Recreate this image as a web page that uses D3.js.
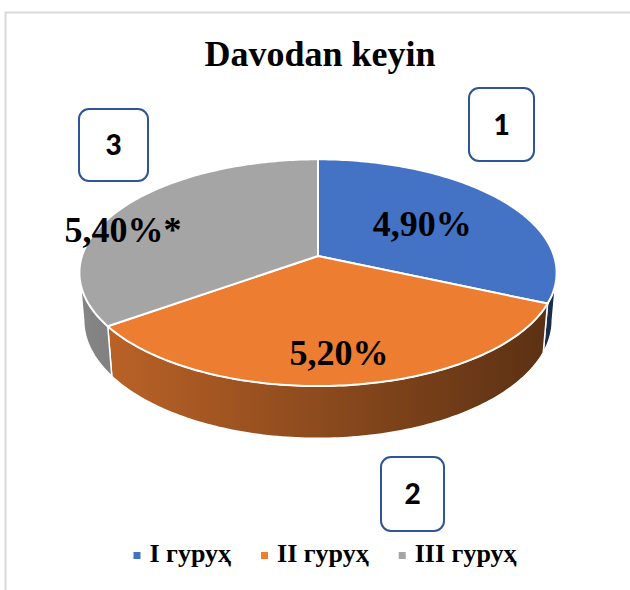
<!DOCTYPE html>
<html>
<head>
<meta charset="utf-8">
<script src="https://cdn.jsdelivr.net/npm/d3@7"></script>
<style>
  body { margin: 0; background: #fff; }
  svg { display: block; }
</style>
</head>
<body>
<div id="chart"></div>
<script>
// data
var groups = ["I гуруҳ", "II гуруҳ", "III гуруҳ"];
var values = [4.9, 5.2, 5.4];
var valueLabels = ["4,90%", "5,20%", "5,40%*"];
var colors = ["#4472c4", "#ed7d31", "#a5a5a5"];
var boxNumbers = ["1", "2", "3"];

var width = 630, height = 590;
var serif = "'Liberation Serif', 'Times New Roman', serif";

var svg = d3.select("#chart").append("svg")
  .attr("width", width)
  .attr("height", height);

// light frame round the chart area
svg.append("rect")
  .attr("x", 5.5).attr("y", 12.5)
  .attr("width", 700).attr("height", 700)
  .attr("fill", "none")
  .attr("stroke", "#d9d9d9")
  .attr("stroke-width", 2);

svg.append("text")
  .attr("x", 320).attr("y", 66)
  .attr("text-anchor", "middle")
  .style("font-family", serif)
  .style("font-weight", "bold")
  .style("font-size", "36px")
  .text("Davodan keyin");

// 3d pie projection: circle tilted towards the viewer, mild perspective
var cx = 318, cy = 256, R = 236;
var tilt = Math.asin(0.47), D = 6.0, depth = 0.23;

function proj(theta, f, h) {
  var X = f * Math.sin(theta), Z = -f * Math.cos(theta), Y = -h;
  var u = Y * Math.cos(tilt) - Z * Math.sin(tilt);
  var w = Z * Math.cos(tilt) + Y * Math.sin(tilt);
  var s = D / (D - w);
  return [cx + R * X * s, cy - R * u * s];
}

function rim(a0, a1, h) {
  var n = Math.max(2, Math.ceil((a1 - a0) / (Math.PI / 180)));
  return d3.range(n + 1).map(function(i) { return proj(a0 + (a1 - a0) * i / n, 1, h); });
}

// silhouette angles of the side wall
var sR = Math.acos(-Math.cos(tilt) / D);
var sL = 2 * Math.PI - sR;

var pie = d3.pie().sort(null).value(function(d) { return d; });
var arcs = pie(values);
var line = d3.line();

var defs = svg.append("defs");
arcs.forEach(function(d, i) {
  var g = defs.append("linearGradient")
    .attr("id", "side" + i)
    .attr("gradientUnits", "userSpaceOnUse")
    .attr("x1", cx - R).attr("x2", cx + R)
    .attr("y1", 0).attr("y2", 0);
  g.append("stop").attr("offset", "0%").attr("stop-color", d3.color(colors[i]).darker(0.6));
  g.append("stop").attr("offset", "100%").attr("stop-color", d3.color(colors[i]).darker(2.7));
});

// side walls (front part only)
var walls = svg.append("g");
arcs.forEach(function(d, i) {
  var a0 = Math.max(d.startAngle, sR), a1 = Math.min(d.endAngle, sL);
  if (a1 <= a0) return;
  var pts = rim(a0, a1, 0).concat(rim(a0, a1, depth).reverse());
  walls.append("path")
    .attr("d", line(pts) + "Z")
    .attr("fill", "url(#side" + i + ")")
    .attr("stroke", "#fff")
    .attr("stroke-width", 1.5)
    .attr("stroke-linejoin", "round");
});

// top face
var topFace = svg.append("g");
arcs.forEach(function(d, i) {
  var pts = [proj(0, 0, 0)].concat(rim(d.startAngle, d.endAngle, 0));
  topFace.append("path")
    .attr("d", line(pts) + "Z")
    .attr("fill", colors[i])
    .attr("stroke", "#fff")
    .attr("stroke-width", 2)
    .attr("stroke-linejoin", "round");
});

// value labels, placed inside/near each slice
var labelPlace = [
  {da: 0, f: 0.55},
  {da: 0, f: 0.78},
  {da: -0.2, f: 0.89}
];
arcs.forEach(function(d, i) {
  var mid = (d.startAngle + d.endAngle) / 2 + labelPlace[i].da;
  var p = proj(mid, labelPlace[i].f, 0);
  svg.append("text")
    .attr("x", p[0]).attr("y", p[1] + 12)
    .attr("text-anchor", "middle")
    .style("font-family", serif)
    .style("font-weight", "bold")
    .style("font-size", "36px")
    .text(valueLabels[i]);
});

// numbered call-out boxes
var boxes = [
  {x: 469, y: 88, w: 65, h: 73},
  {x: 381, y: 457, w: 63, h: 74},
  {x: 79, y: 109, w: 69, h: 72}
];
boxes.forEach(function(b, i) {
  svg.append("rect")
    .attr("x", b.x).attr("y", b.y)
    .attr("width", b.w).attr("height", b.h)
    .attr("rx", 10).attr("ry", 10)
    .attr("fill", "#fff")
    .attr("stroke", "#2f5597")
    .attr("stroke-width", 2);
  svg.append("text")
    .attr("x", b.x + b.w / 2).attr("y", b.y + b.h / 2 + 10)
    .attr("text-anchor", "middle")
    .style("font-family", "Lato, 'Open Sans', sans-serif")
    .style("font-weight", "900")
    .style("font-size", "28px")
    .text(boxNumbers[i]);
});

// legend
var legend = svg.append("g");
var lx = 0;
groups.forEach(function(g, i) {
  var item = legend.append("g").attr("transform", "translate(" + lx + ",0)");
  item.append("rect")
    .attr("x", 0).attr("y", -10)
    .attr("width", 7).attr("height", 7)
    .attr("fill", colors[i]);
  var t = item.append("text")
    .attr("x", 16).attr("y", 0)
    .style("font-family", serif)
    .style("font-weight", "bold")
    .style("font-size", "26px")
    .text(g);
  lx += 16 + t.node().getComputedTextLength() + 30;
});
var lw = lx - 30;
legend.attr("transform", "translate(" + (325 - lw / 2) + ",562)");
</script>
</body>
</html>
